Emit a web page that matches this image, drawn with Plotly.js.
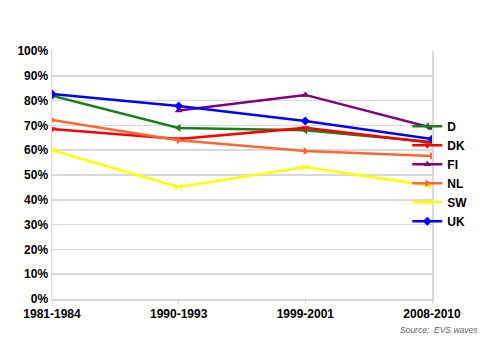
<!DOCTYPE html>
<html><head><meta charset="utf-8">
<script src="https://cdn.plot.ly/plotly-3.0.1.min.js"></script>
<style>html,body{margin:0;padding:0;background:#fff}#chart{width:500px;height:354px}</style>
</head><body><div id="chart"></div>
<script>
const periods = ["1981-1984", "1990-1993", "1999-2001", "2008-2010"];
const seriesNames = ["D", "DK", "FI", "NL", "SW", "UK"];
const valD  = [0.82, 0.69, 0.68, 0.633];
const valDK = [0.685, 0.645, 0.69, 0.63];
const valFI = [null, 0.76, 0.823, 0.69];
const valNL = [0.722, 0.64, 0.597, 0.577];
const valSW = [0.60, 0.452, 0.532, 0.456];
const valUK = [0.827, 0.778, 0.718, 0.645];
const seriesValues = [valD, valDK, valFI, valNL, valSW, valUK];
const colors = ["#1b7f1b", "#ff0000", "#800080", "#ff6633", "#ffff00", "#0000ff"];
const symbols = ["triangle-left", "triangle-down", "triangle-up", "triangle-right", "bowtie", "diamond"];

const traces = seriesNames.map((n, i) => ({
  x: periods, y: seriesValues[i], name: n, type: "scatter", mode: "lines+markers",
  line: {color: colors[i], width: 2.5},
  marker: {color: colors[i], symbol: symbols[i], size: 7},
  connectgaps: false
}));

const layout = {
  width: 500, height: 354,
  margin: {l: 52, r: 68, t: 51, b: 55},
  paper_bgcolor: "#fff", plot_bgcolor: "#fff",
  font: {family: "Liberation Sans, Arial, sans-serif", color: "#000"},
  showlegend: true,
  legend: {x: 0.935, xanchor: "left", y: 0.755, yanchor: "top", itemwidth: 30,
           font: {size: 12, family: "Liberation Sans, Arial, sans-serif", weight: "bold"},
           bgcolor: "rgba(0,0,0,0)", tracegroupgap: 0},
  xaxis: {type: "category", range: [0, 3], showgrid: false, showline: true, linecolor: "#d9d9d9", linewidth: 1.5,
          ticks: "outside", ticklen: 3, tickcolor: "#d9d9d9",
          tickfont: {size: 12, weight: "bold"}, zeroline: false},
  yaxis: {range: [0, 1], tickformat: ".0%", dtick: 0.1, showgrid: true, gridcolor: "#d9d9d9", gridwidth: 1.5,
          showline: true, linecolor: "#d9d9d9", linewidth: 1.5, mirror: true, ticks: "",
          tickfont: {size: 12, weight: "bold"}, zeroline: false},
  annotations: [{text: "<i>Source:  EVS waves</i>", xref: "paper", yref: "paper", x: 1.125, y: -0.095,
                 xanchor: "right", yanchor: "top", showarrow: false,
                 font: {size: 8.5, color: "#666"}}]
};
Plotly.newPlot("chart", traces, layout, {displayModeBar: false, staticPlot: true});
</script></body></html>
